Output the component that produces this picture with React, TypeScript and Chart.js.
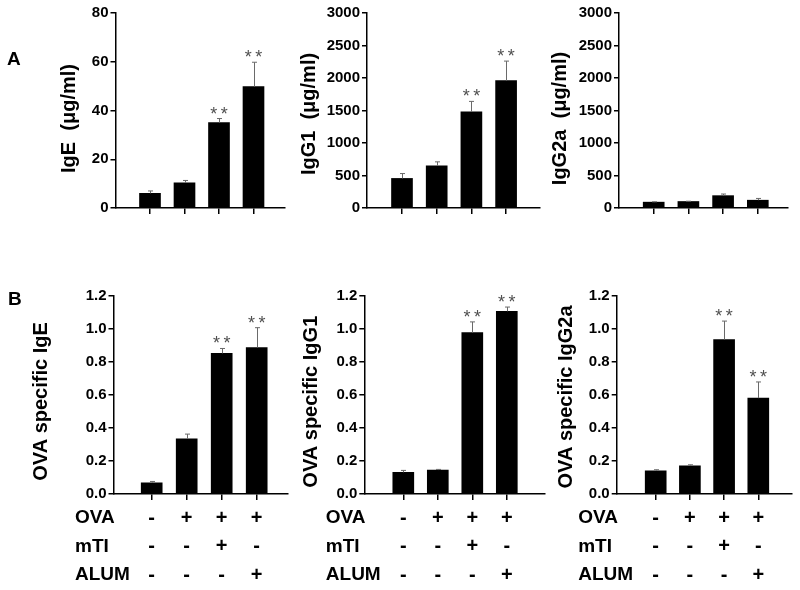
import React, { useEffect, useRef } from 'react';
import { Chart, registerables } from 'chart.js';

Chart.register(...registerables);

const FONT = '"Liberation Sans", Arial, Helvetica, sans-serif';

// Treatment groups (x positions of the four bars)
const GROUPS = [1, 2, 3, 4];
const OVA_SIGNS = ['-', '+', '+', '+'];
const MTI_SIGNS = ['-', '-', '+', '-'];
const ALUM_SIGNS = ['-', '-', '-', '+'];
const ROW_LABELS = ['OVA', 'mTI', 'ALUM'];

// Panel A: total immunoglobulins (μg/ml)
const IGE_TOTAL = [6.0, 10.3, 35.0, 49.8];
const IGE_TOTAL_ERR = [1.0, 1.0, 1.7, 10.0];
const IGG1_TOTAL = [455, 650, 1480, 1960];
const IGG1_TOTAL_ERR = [75, 60, 160, 300];
const IGG2A_TOTAL = [90, 100, 190, 120];
const IGG2A_TOTAL_ERR = [5, 4, 25, 27];

// Panel B: OVA-specific immunoglobulins
const OVA_IGE = [0.068, 0.335, 0.852, 0.888];
const OVA_IGE_ERR = [0.008, 0.028, 0.03, 0.12];
const OVA_IGG1 = [0.131, 0.145, 0.978, 1.107];
const OVA_IGG1_ERR = [0.012, 0.004, 0.065, 0.026];
const OVA_IGG2A = [0.141, 0.171, 0.936, 0.581];
const OVA_IGG2A_ERR = [0.006, 0.006, 0.112, 0.098];

// Significance marks
const STARS_IGE = ['', '', '**', '**'];
const STARS_IGG1 = ['', '', '**', '**'];
const STARS_IGG2A = ['', '', '', ''];
const STARS_OVA_IGE = ['', '', '**', '**'];
const STARS_OVA_IGG1 = ['', '', '**', '**'];
const STARS_OVA_IGG2A = ['', '', '**', '**'];

// Y axis ranges
const Y_TOTAL_IGE = { max: 80, step: 20, decimals: 0 };
const Y_TOTAL_IGG = { max: 3000, step: 500, decimals: 0 };
const Y_OVA = { max: 1.2, step: 0.2, decimals: 1 };

const ROWS: Record<string, { canvasTop: number; canvasH: number; top: number; bottom: number }> = {
  A: { canvasTop: 0, canvasH: 240, top: 13, bottom: 208 },
  B: { canvasTop: 270, canvasH: 320, top: 296, bottom: 494 },
};

const ROW_LINE_H = 28.5;

type Panel = {
  key: string;
  row: 'A' | 'B';
  title: string;
  values: number[];
  errors: number[];
  stars: string[];
  yAxis: { max: number; step: number; decimals: number };
  axisX: number;
  firstTick: number;
  spacing: number;
  rightX: number;
  titleX: number;
  titleY: number;
  letter?: { text: string; x: number; y: number };
};

const PANELS: Panel[] = [
  {
    key: 'a1', row: 'A', title: 'IgE  (μg/ml)', values: IGE_TOTAL, errors: IGE_TOTAL_ERR, stars: STARS_IGE,
    yAxis: Y_TOTAL_IGE, axisX: 115.5, firstTick: 150, spacing: 34.5, rightX: 285, titleX: 69, titleY: 118.5,
    letter: { text: 'A', x: 7, y: 65 },
  },
  {
    key: 'a2', row: 'A', title: 'IgG1  (μg/ml)', values: IGG1_TOTAL, errors: IGG1_TOTAL_ERR, stars: STARS_IGG1,
    yAxis: Y_TOTAL_IGG, axisX: 367, firstTick: 402, spacing: 34.7, rightX: 540, titleX: 309, titleY: 114,
  },
  {
    key: 'a3', row: 'A', title: 'IgG2a  (μg/ml)', values: IGG2A_TOTAL, errors: IGG2A_TOTAL_ERR, stars: STARS_IGG2A,
    yAxis: Y_TOTAL_IGG, axisX: 619, firstTick: 653.7, spacing: 34.7, rightX: 788, titleX: 560, titleY: 118.5,
  },
  {
    key: 'b1', row: 'B', title: 'OVA specific IgE', values: OVA_IGE, errors: OVA_IGE_ERR, stars: STARS_OVA_IGE,
    yAxis: Y_OVA, axisX: 113.5, firstTick: 151.7, spacing: 35, rightX: 288, titleX: 41, titleY: 401.5,
    letter: { text: 'B', x: 8, y: 305 },
  },
  {
    key: 'b2', row: 'B', title: 'OVA specific IgG1', values: OVA_IGG1, errors: OVA_IGG1_ERR, stars: STARS_OVA_IGG1,
    yAxis: Y_OVA, axisX: 364.3, firstTick: 403.3, spacing: 34.5, rightX: 545, titleX: 311, titleY: 401.7,
  },
  {
    key: 'b3', row: 'B', title: 'OVA specific IgG2a', values: OVA_IGG2A, errors: OVA_IGG2A_ERR, stars: STARS_OVA_IGG2A,
    yAxis: Y_OVA, axisX: 616.7, firstTick: 655.7, spacing: 34.2, rightX: 792, titleX: 566.5, titleY: 397,
  },
];

function PanelChart({ p }: { p: Panel }) {
  const ref = useRef<HTMLCanvasElement | null>(null);
  const row = ROWS[p.row];
  const canvasLeft = Math.floor(p.axisX) - 110;
  const canvasW = Math.ceil(p.rightX - canvasLeft + 12);
  const canvasTop = row.canvasTop;
  const canvasH = row.canvasH;
  const isB = p.row === 'B';

  useEffect(() => {
    const canvas = ref.current;
    if (!canvas) return;
    const lastTick = p.firstTick + p.spacing * (GROUPS.length - 1);
    const xMin = GROUPS[0] - (p.firstTick - p.axisX) / p.spacing;
    const xMax = GROUPS[GROUPS.length - 1] + (p.rightX - lastTick) / p.spacing;

    const deco = {
      id: 'deco_' + p.key,
      afterDatasetsDraw(chart: any) {
        const ctx = chart.ctx as CanvasRenderingContext2D;
        const meta = chart.getDatasetMeta(0);
        const ys = chart.scales.y;
        ctx.save();
        meta.data.forEach((bar: any, i: number) => {
          const x = Math.round(bar.x) + 0.5;
          const yv = ys.getPixelForValue(p.values[i]);
          const ye = ys.getPixelForValue(p.values[i] + p.errors[i]);
          ctx.strokeStyle = '#6a6a6a';
          ctx.lineWidth = 1;
          ctx.beginPath();
          ctx.moveTo(x, yv);
          ctx.lineTo(x, ye);
          ctx.moveTo(x - 2.5, ye);
          ctx.lineTo(x + 2.5, ye);
          ctx.stroke();
          const s = p.stars[i];
          if (s) {
            ctx.fillStyle = '#505050';
            ctx.font = `18px ${FONT}`;
            ctx.textAlign = 'center';
            ctx.textBaseline = 'alphabetic';
            const n = s.length;
            for (let k = 0; k < n; k++) {
              const dx = (k - (n - 1) / 2) * 10.5;
              ctx.fillText('*', bar.x + dx, ye + 1);
            }
          }
        });
        ctx.restore();
      },
      afterDraw(chart: any) {
        const ctx = chart.ctx as CanvasRenderingContext2D;
        ctx.save();
        ctx.fillStyle = '#000';
        ctx.font = `bold 20px ${FONT}`;
        ctx.textAlign = 'center';
        ctx.textBaseline = 'middle';
        ctx.translate(p.titleX - canvasLeft, p.titleY - canvasTop);
        ctx.rotate(-Math.PI / 2);
        ctx.fillText(p.title, 0, 0);
        ctx.restore();
        ctx.save();
        if (isB) {
          ctx.fillStyle = '#000';
          ctx.font = `bold 19px ${FONT}`;
          ctx.textAlign = 'left';
          ctx.textBaseline = 'middle';
          const ca = chart.chartArea;
          ROW_LABELS.forEach((lab, i) => {
            ctx.fillText(lab, ca.left - 38.5, ca.bottom + 6 + 4 + ROW_LINE_H * (i + 0.5));
          });
        }
        if (p.letter) {
          ctx.fillStyle = '#000';
          ctx.font = `bold 19px ${FONT}`;
          ctx.textAlign = 'left';
          ctx.textBaseline = 'alphabetic';
          ctx.fillText(p.letter.text, p.letter.x - canvasLeft, p.letter.y - canvasTop);
        }
        ctx.restore();
      },
    };

    const chart = new Chart(canvas, {
      type: 'bar',
      data: {
        datasets: [
          {
            data: p.values.map((v, i) => ({ x: GROUPS[i], y: v })),
            backgroundColor: '#000000',
            borderWidth: 0,
            barThickness: 21,
          },
        ],
      },
      options: {
        responsive: false,
        animation: false,
        devicePixelRatio: 1,
        layout: {
          padding: {
            left: 0,
            top: row.top - canvasTop,
            right: canvasW - (p.rightX - canvasLeft),
            bottom: 0,
          },
        },
        plugins: { legend: { display: false }, tooltip: { enabled: false }, title: { display: false } },
        scales: {
          x: {
            type: 'linear',
            min: xMin,
            max: xMax,
            offset: false,
            afterBuildTicks: (s: any) => {
              s.ticks = GROUPS.map((v) => ({ value: v }));
            },
            afterFit: (s: any) => {
              s.height = canvasTop + canvasH - row.bottom;
            },
            ticks: {
              autoSkip: false,
              maxRotation: 0,
              minRotation: 0,
              padding: 4,
              color: '#000',
              font: { family: FONT, size: 20, weight: 'bold', lineHeight: ROW_LINE_H + 'px' },
              callback: (value: any) => {
                const i = GROUPS.indexOf(Number(value));
                if (!isB || i < 0) return '';
                return [OVA_SIGNS[i], MTI_SIGNS[i], ALUM_SIGNS[i]];
              },
            },
            grid: { drawOnChartArea: false, drawTicks: true, tickLength: 6, color: '#000', lineWidth: 1.5, offset: false },
            border: { display: true, color: '#000', width: 1.5 },
          },
          y: {
            min: 0,
            max: p.yAxis.max,
            afterBuildTicks: (s: any) => {
              const t: any[] = [];
              const n = Math.round(p.yAxis.max / p.yAxis.step);
              for (let k = 0; k <= n; k++) t.push({ value: +(k * p.yAxis.step).toFixed(4) });
              s.ticks = t;
            },
            afterFit: (s: any) => {
              s.width = p.axisX - canvasLeft;
            },
            ticks: {
              padding: 2,
              color: '#000',
              font: { family: FONT, size: 15, weight: 'bold' },
              callback: (value: any) => Number(value).toFixed(p.yAxis.decimals),
            },
            grid: { drawOnChartArea: false, drawTicks: true, tickLength: 5, color: '#000', lineWidth: 1.5 },
            border: { display: true, color: '#000', width: 1.5 },
          },
        },
      } as any,
      plugins: [deco],
    });
    return () => chart.destroy();
  }, []);

  return (
    <canvas
      ref={ref}
      width={canvasW}
      height={canvasH}
      style={{ position: 'absolute', left: canvasLeft, top: canvasTop, width: canvasW, height: canvasH }}
    />
  );
}

export default function App() {
  return (
    <div style={{ position: 'absolute', left: 0, top: 0, width: 800, height: 590, background: '#fff', overflow: 'hidden' }}>
      {PANELS.map((p) => (
        <PanelChart key={p.key} p={p} />
      ))}
    </div>
  );
}
